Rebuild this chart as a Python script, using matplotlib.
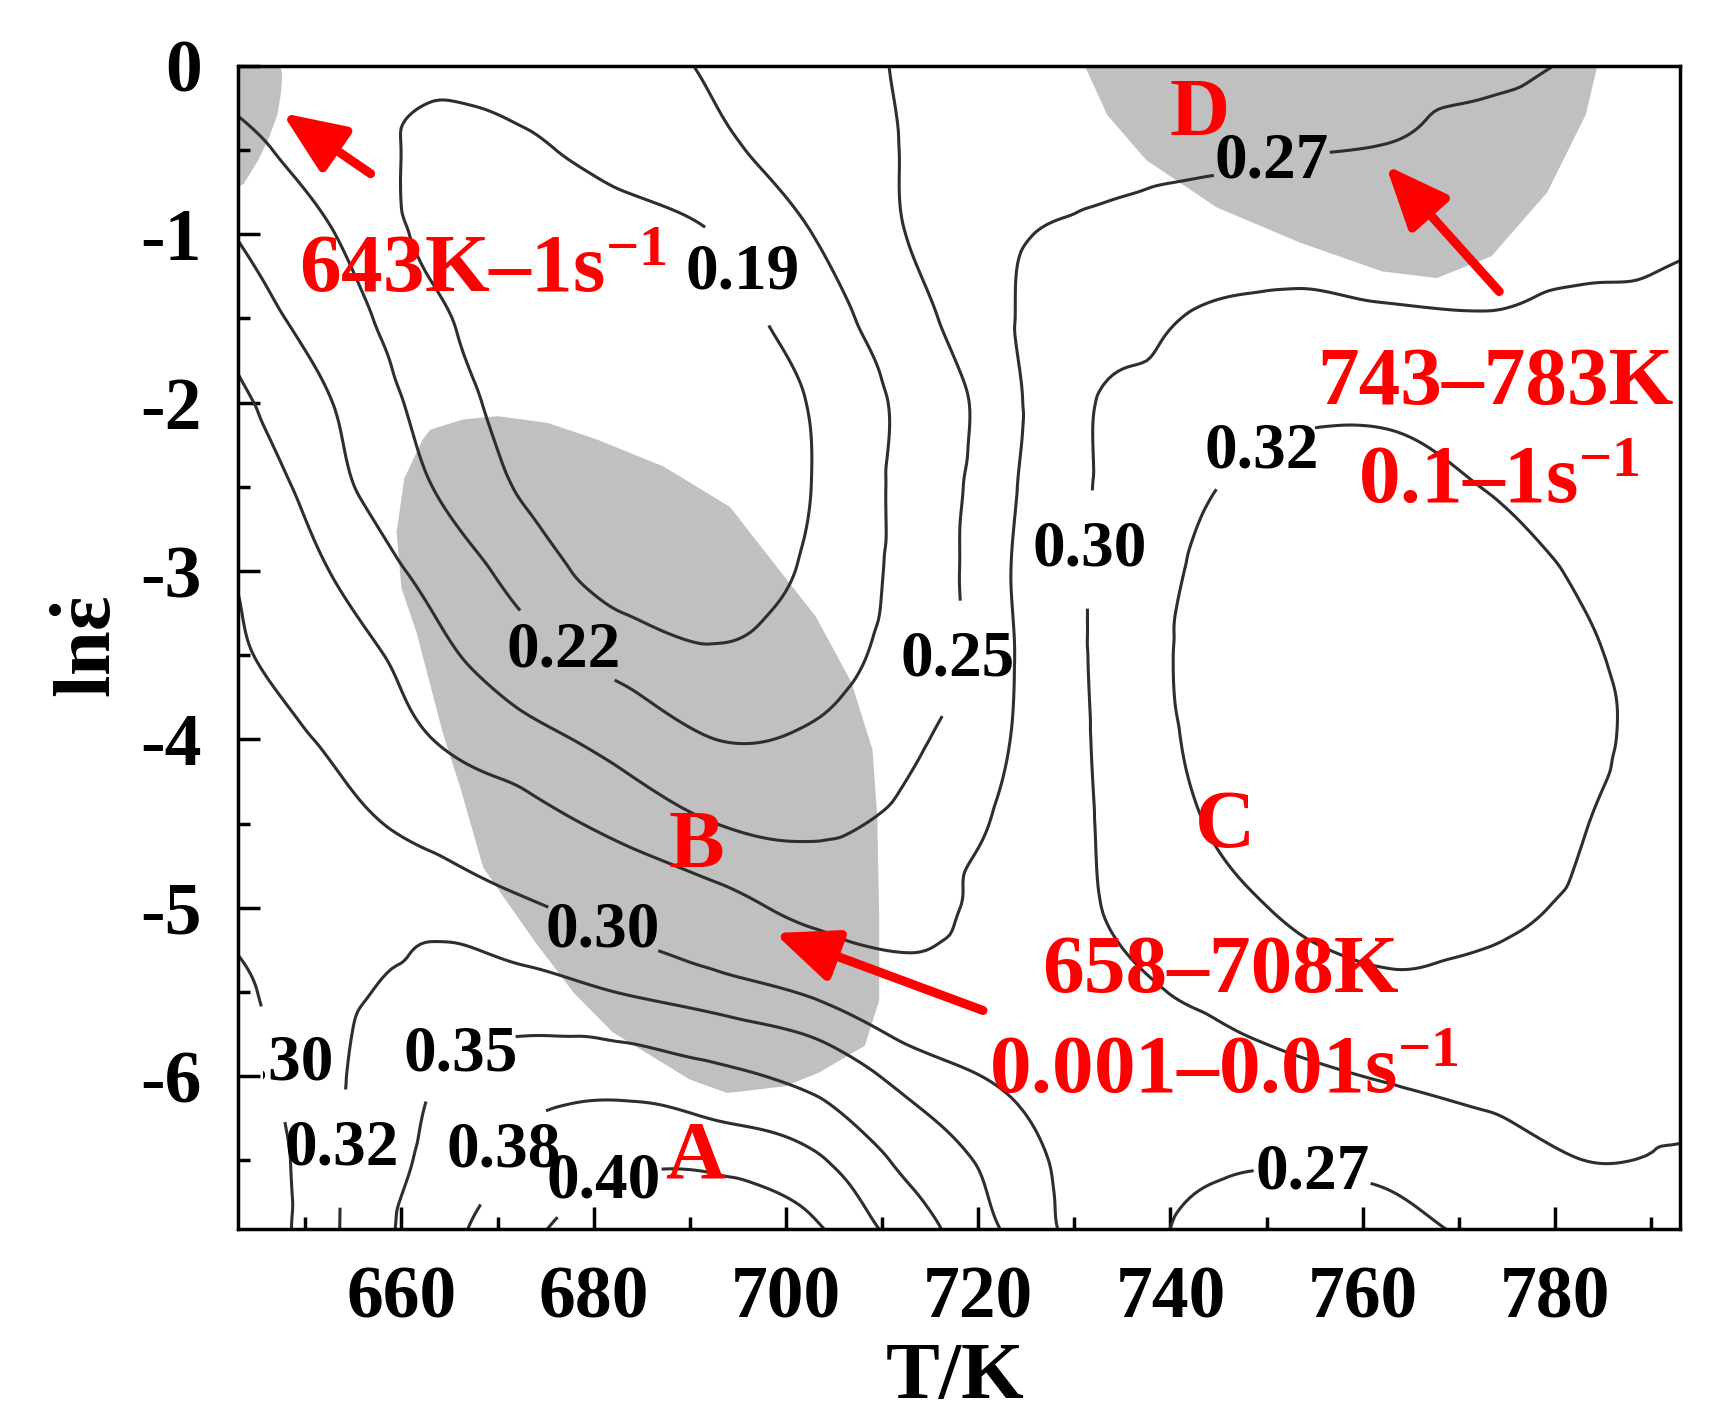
import numpy as np
import matplotlib
matplotlib.use("Agg")
import matplotlib.pyplot as plt
import matplotlib.tri as mtri
from matplotlib.patches import Rectangle

plt.rcParams['font.family'] = ['Liberation Serif', 'DejaVu Serif']
plt.rcParams['font.weight'] = 'bold'
plt.rcParams['axes.labelweight'] = 'bold'
plt.rcParams['axes.unicode_minus'] = False
plt.rcParams['mathtext.fontset'] = 'custom'
plt.rcParams['mathtext.rm'] = 'Liberation Serif:bold'
plt.rcParams['mathtext.it'] = 'Liberation Serif:bold'
plt.rcParams['mathtext.bf'] = 'Liberation Serif:bold'

# grid of the processing map (efficiency)
temps = [643, 653, 663, 673, 683, 693, 703, 713, 723, 733, 743, 753, 763, 773, 783, 793]
ln_rates = [0, -0.5, -1, -1.5, -2, -2.5, -3, -3.5, -4, -4.5, -5, -5.5, -6, -6.5, -6.908]
eta = [
    [0.208, 0.199, 0.194, 0.199, 0.210, 0.224, 0.240, 0.252, 0.254, 0.257, 0.259, 0.262, 0.264, 0.266, 0.272, 0.277],
    [0.229, 0.205, 0.186, 0.187, 0.200, 0.2146, 0.2348, 0.2515, 0.2558, 0.2602, 0.2645, 0.2689, 0.271, 0.277, 0.281, 0.286],
    [0.2488, 0.2204, 0.184, 0.178, 0.180, 0.191, 0.2207, 0.2513, 0.267, 0.2762, 0.2843, 0.2878, 0.2885, 0.2895, 0.293, 0.2975],
    [0.2616, 0.236, 0.1963, 0.177, 0.173, 0.180, 0.2048, 0.2416, 0.268, 0.2878, 0.302, 0.306, 0.3025, 0.301, 0.304, 0.304],
    [0.274, 0.2495, 0.209, 0.178, 0.172, 0.175, 0.1924, 0.2289, 0.2637, 0.302, 0.311, 0.317, 0.317, 0.313, 0.309, 0.306],
    [0.2861, 0.257, 0.2208, 0.186, 0.174, 0.175, 0.191, 0.2306, 0.266, 0.3032, 0.3182, 0.3245, 0.325, 0.3195, 0.313, 0.309],
    [0.298, 0.2686, 0.2428, 0.207, 0.175, 0.178, 0.1948, 0.2311, 0.2685, 0.3046, 0.322, 0.330, 0.333, 0.328, 0.318, 0.312],
    [0.303, 0.2826, 0.2582, 0.2308, 0.2087, 0.193, 0.2055, 0.2344, 0.2671, 0.305, 0.324, 0.334, 0.337, 0.335, 0.322, 0.314],
    [0.308, 0.2966, 0.2705, 0.2575, 0.2412, 0.2197, 0.2246, 0.2458, 0.2690, 0.3038, 0.323, 0.334, 0.338, 0.335, 0.323, 0.315],
    [0.311, 0.306, 0.2925, 0.2783, 0.2639, 0.2497, 0.2465, 0.2560, 0.2740, 0.3021, 0.3193, 0.332, 0.336, 0.333, 0.3205, 0.313],
    [0.305, 0.312, 0.315, 0.303, 0.2906, 0.2787, 0.263, 0.2620, 0.280, 0.3003, 0.312, 0.3225, 0.327, 0.3245, 0.317, 0.310],
    [0.296, 0.314, 0.327, 0.329, 0.3191, 0.3085, 0.297, 0.280, 0.283, 0.293, 0.3035, 0.3125, 0.317, 0.315, 0.310, 0.307],
    [0.288, 0.316, 0.348, 0.368, 0.370, 0.357, 0.340, 0.3114, 0.297, 0.288, 0.285, 0.295, 0.302, 0.307, 0.305, 0.304],
    [0.280, 0.317, 0.3565, 0.387, 0.397, 0.396, 0.384, 0.3406, 0.3107, 0.288, 0.274, 0.272, 0.276, 0.288, 0.300, 0.2985],
    [0.280, 0.3174, 0.3667, 0.396, 0.408, 0.410, 0.4025, 0.3657, 0.3173, 0.2869, 0.265, 0.260, 0.264, 0.275, 0.283, 0.289],
]
levels = [0.19, 0.22, 0.25, 0.27, 0.30, 0.32, 0.35, 0.38, 0.40]

# where the contour labels sit
label_pts = [(696, -1.21), (676.5, -3.5), (717.1, -3.52), (750.5, -0.57), (754.7, -6.6),
             (680.9, -5.14), (646.5, -5.93), (730.8, -2.87), (653.9, -6.43), (749, -2.25),
             (666.2, -5.88), (670.3, -6.43), (680.9, -6.6)]

# instability domains (grey)
dom1_T = [643, 647.4, 647.6, 647.5, 647.1, 646.2, 645.1, 643.6, 643]
dom1_L = [0, 0, -0.05, -0.15, -0.29, -0.43, -0.56, -0.70, -0.72]
dom2_T = [663, 666.4, 670, 675.2, 680.4, 687.3, 694.2, 697.6, 703.1, 706.8, 709, 709.5, 709.7, 709.7,
          708.2, 703.4, 699.9, 693.9, 690, 682, 678, 674, 670.8, 668.5, 666.2, 664.3, 661.6, 660, 659.5, 660.3, 662.2]
dom2_L = [-2.16, -2.1, -2.08, -2.12, -2.22, -2.38, -2.62, -2.87, -3.27, -3.66, -4.06, -4.46, -5.05, -5.55,
          -5.82, -5.98, -6.06, -6.1, -6.02, -5.74, -5.51, -5.21, -4.95, -4.76, -4.3, -3.96, -3.37, -3.1, -2.77, -2.45, -2.22]
dom3_T = [731.1, 733.4, 737.5, 744.8, 753.5, 762, 767.7, 773.4, 779.2, 783.2, 784.4]
dom3_L = [0.0, -0.29, -0.56, -0.84, -1.05, -1.22, -1.26, -1.13, -0.75, -0.29, 0.0]

fig = plt.figure(figsize=(17.22, 14.24), dpi=100)
ax = fig.add_axes([0.1382, 0.1369, 0.8374, 0.8168])
ax.set_xlim(643, 793)
ax.set_ylim(-6.908, 0)

grey = '#c0c0c0'
ax.fill(dom1_T, dom1_L, color=grey, lw=0, zorder=1)
ax.fill(dom2_T, dom2_L, color=grey, lw=0, zorder=1)
ax.fill(dom3_T, dom3_L, color=grey, lw=0, zorder=1)

# smooth the read grid with a cubic triangle interpolator
TT, LL = np.meshgrid(temps, ln_rates)
nx, ny = len(temps), len(ln_rates)
tris = []
for j in range(ny - 1):
    for i in range(nx - 1):
        a = j * nx + i
        tris += [[a, a + 1, a + nx + 1], [a, a + nx + 1, a + nx]]
xn = (TT.ravel() - 643) / 10.0
yn = LL.ravel() / 0.5
tri = mtri.Triangulation(xn, yn, triangles=tris)
interp = mtri.CubicTriInterpolator(tri, np.array(eta).ravel(), kind='geom')
tf = np.linspace(643, 793, 301)
lf = np.linspace(-6.908, 0, 301)
TF, LF = np.meshgrid(tf, lf)
ZF = interp((TF - 643) / 10.0, LF / 0.5)

cs = ax.contour(TF, LF, ZF, levels=levels, colors='#2e2e2e', linewidths=2.2, zorder=2)
labs = ax.clabel(cs, fmt='%.2f', fontsize=47, inline=True, inline_spacing=2,
                 colors='k', manual=label_pts)
for t in labs:
    t.set_rotation(0)
    x, y = t.get_position()
    if x < 650 and y > -6.2:
        # the label at the left border loses its leading 0 behind the frame
        t.set_clip_path(Rectangle((645.6, -7.5), 160, 8, transform=ax.transData))

red = '#ff0000'
fs = 60
ax.text(649.3, -1.34, '643K\u20131s$^{-1}$', color=red, fontsize=fs, va='baseline', zorder=5)
ax.text(755.3, -2.01, '743\u2013783K', color=red, fontsize=fs, va='baseline', zorder=5)
ax.text(759.5, -2.59, '0.1\u20131s$^{-1}$', color=red, fontsize=fs, va='baseline', zorder=5)
ax.text(726.6, -5.5, '658\u2013708K', color=red, fontsize=fs, va='baseline', zorder=5)
ax.text(721.1, -6.095, '0.001\u20130.01s$^{-1}$', color=red, fontsize=fs, va='baseline', zorder=5)
for s, x, y in [('A', 690.6, -6.6), ('B', 690.7, -4.76), ('C', 745.7, -4.64), ('D', 743, -0.41)]:
    ax.text(x, y, s, color=red, fontsize=fs, ha='center', va='baseline', zorder=5)

arrows = [((656.8, -0.64), (647.6, -0.28)),
          ((774.2, -1.34), (762.4, -0.59)),
          ((720.5, -5.61), (698.8, -5.15))]
for tail, head in arrows:
    ax.annotate('', xy=head, xytext=tail, zorder=6,
                arrowprops=dict(arrowstyle='-|>,head_length=1.9,head_width=0.8',
                                mutation_scale=20, lw=6.5, color=red,
                                shrinkA=0, shrinkB=0))

ax.set_xticks(range(660, 781, 20))
ax.set_xticks(range(650, 791, 20), minor=True)
ax.set_yticks(range(-6, 1))
ax.set_yticks(np.arange(-6.5, 0, 1.0), minor=True)
ax.tick_params(which='both', direction='in', width=2.5, labelsize=53, pad=26,
               top=False, right=False)
ax.tick_params(which='major', length=16)
ax.tick_params(which='minor', length=8.5)
for sp in ax.spines.values():
    sp.set_linewidth(2.5)

ax.set_xlabel('T/K', fontsize=58, fontweight='bold')
ax.xaxis.set_label_coords(0.497, -0.097)
ax.set_ylabel(r'$\mathbf{ln}\dot{\varepsilon}$', fontsize=58)
ax.yaxis.set_label_coords(-0.076, 0.5)

fig.savefig('out.png', dpi=100)
